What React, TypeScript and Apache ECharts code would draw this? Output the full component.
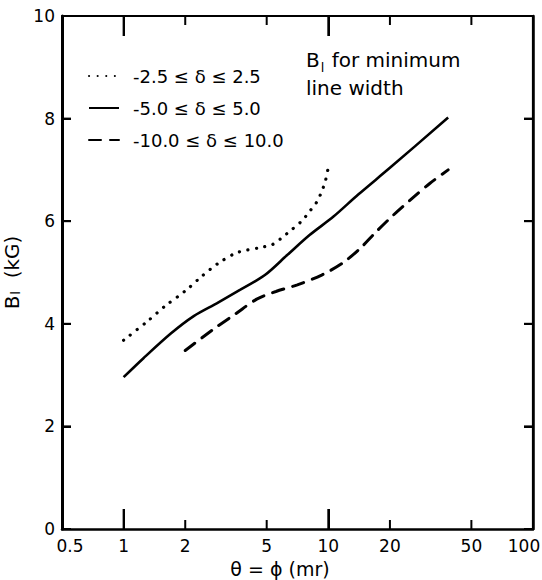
import React, { useEffect, useRef } from 'react';
import * as echarts from 'echarts';

const FONT = 'DejaVu Sans';

const xMin = 0.5;
const xMax = 100;
const yMin = 0;
const yMax = 10;
const yStep = 2;
const xTickLabels = [0.5, 1, 2, 5, 10, 20, 50, 100];
const xMajorTicks = [1, 10];
const xMinorTicks = [2, 5, 20, 50];
const yTicks = [2, 4, 6, 8];

const seriesNames = ['-2.5 ≤ δ ≤ 2.5', '-5.0 ≤ δ ≤ 5.0', '-10.0 ≤ δ ≤ 10.0'];

const dottedX = [1, 1.3, 1.6, 2, 2.4, 2.9, 3.6, 4.7, 5.3, 5.9, 6.6, 7.4, 8.1, 8.8, 9.35, 9.7, 10];
const dottedY = [3.68, 4.04, 4.35, 4.64, 4.92, 5.18, 5.39, 5.49, 5.54, 5.67, 5.83, 6.0, 6.19, 6.38, 6.61, 6.8, 7.05];

const solidX = [1, 1.25, 1.7, 2.2, 2.85, 3.7, 4.9, 6.3, 8.1, 10.6, 14, 20, 38.5];
const solidY = [2.96, 3.33, 3.81, 4.15, 4.4, 4.66, 4.95, 5.34, 5.73, 6.09, 6.52, 7.04, 8.02];

const dashedX = [2, 2.76, 3.54, 4.47, 5.55, 7.06, 9.28, 11.8, 14.3, 17.2, 20.8, 25.1, 31.4, 38.5];
const dashedY = [3.48, 3.9, 4.2, 4.48, 4.63, 4.76, 4.95, 5.19, 5.47, 5.8, 6.12, 6.41, 6.74, 7.0];

const zip = (xs: number[], ys: number[]) => xs.map((x, i) => [x, ys[i]]);

export default function App() {
  const ref = useRef<HTMLDivElement>(null);
  useEffect(() => {
    document.body.style.margin = '0';
    const chart = echarts.init(ref.current!, undefined, { renderer: 'svg' });
    const fmt = (v: number) => {
      const n = +Number(v).toPrecision(3);
      if (n === 0.5) return '{a|0.5}';
      if (n === 100) return '{z|100}';
      return String(n);
    };
    const tickRows: any[] = [
      ...xMajorTicks.map((v) => [v, 0, 20]),
      ...xMinorTicks.map((v) => [v, 0, 9]),
      ...yTicks.map((v) => [xMin, v, 9]),
    ];
    const option: any = {
      animation: false,
      backgroundColor: '#fff',
      grid: { left: 62, right: 9, top: 16, bottom: 51, outerBoundsMode: 'none' },
      xAxis: [
        {
          type: 'log',
          min: xMin,
          max: xMax,
          position: 'bottom',
          splitLine: { show: false },
          axisLine: { show: true, onZero: false, lineStyle: { color: '#000', width: 2.5 } },
          axisTick: { show: true, inside: true, length: 20, customValues: xMajorTicks, lineStyle: { color: '#000', width: 2 } },
          axisLabel: {
            show: true,
            customValues: xTickLabels,
            formatter: fmt,
            margin: 8,
            color: '#000',
            fontSize: 17,
            fontFamily: FONT,
            rich: {
              a: { fontSize: 17, fontFamily: FONT, color: '#000', padding: [0, 0, 0, 16] },
              z: { fontSize: 17, fontFamily: FONT, color: '#000', padding: [0, 18, 0, 0] },
            },
          },
          name: 'θ = ϕ (mr)',
          nameLocation: 'middle',
          nameGap: 30,
          nameTextStyle: { fontSize: 19, fontFamily: FONT, color: '#000', padding: [0, 35, 0, 0] },
        },
        {
          type: 'log',
          min: xMin,
          max: xMax,
          position: 'top',
          splitLine: { show: false },
          axisLine: { show: true, onZero: false, lineStyle: { color: '#000', width: 2 } },
          axisTick: { show: true, inside: true, length: 20, customValues: xMajorTicks, lineStyle: { color: '#000', width: 2 } },
          axisLabel: { show: false },
        },
      ],
      yAxis: [
        {
          type: 'value',
          position: 'left',
          min: yMin,
          max: yMax,
          interval: yStep,
          splitLine: { show: false },
          axisLine: { show: true, onZero: false, lineStyle: { color: '#000', width: 3 } },
          axisTick: { show: true, inside: true, length: 9, lineStyle: { color: '#000', width: 2 } },
          axisLabel: { color: '#000', fontSize: 17, fontFamily: FONT, margin: 7 },
          name: '{b|B}{s|l}{b|  (kG)}',
          nameLocation: 'middle',
          nameRotate: 90,
          nameGap: 32,
          nameTextStyle: {
            rich: {
              b: { fontSize: 20, fontFamily: FONT, color: '#000' },
              s: { fontSize: 13, fontFamily: FONT, color: '#000', verticalAlign: 'bottom', padding: [6, 0, 0, 1] },
            },
          },
        },
        {
          type: 'value',
          position: 'right',
          min: yMin,
          max: yMax,
          interval: yStep,
          splitLine: { show: false },
          axisLine: { show: true, onZero: false, lineStyle: { color: '#000', width: 2.5 } },
          axisTick: { show: true, inside: true, length: 9, lineStyle: { color: '#000', width: 2 } },
          axisLabel: { show: false },
        },
      ],
      legend: {
        orient: 'vertical',
        left: 83,
        top: 62,
        itemWidth: 30,
        itemHeight: 12,
        itemGap: 14,
        data: seriesNames,
        itemStyle: { color: 'rgba(0,0,0,0)', borderColor: 'rgba(0,0,0,0)', borderWidth: 0, opacity: 0 },
        textStyle: { fontSize: 18, fontFamily: FONT, color: '#000', padding: [0, 0, 0, 9] },
      },
      series: [
        {
          name: seriesNames[0],
          type: 'line',
          data: zip(dottedX, dottedY),
          symbol: 'none',
          smooth: 0.3,
          lineStyle: { color: '#000', width: 3.2, type: [0.1, 8.5], cap: 'round' },
          itemStyle: { color: '#000' },
        },
        {
          name: seriesNames[1],
          type: 'line',
          data: zip(solidX, solidY),
          symbol: 'none',
          smooth: 0.3,
          lineStyle: { color: '#000', width: 2.6 },
          itemStyle: { color: '#000' },
        },
        {
          name: seriesNames[2],
          type: 'line',
          data: zip(dashedX, dashedY),
          symbol: 'none',
          smooth: 0.3,
          lineStyle: { color: '#000', width: 3, type: [12, 9], cap: 'round' },
          itemStyle: { color: '#000' },
        },
        {
          name: 'frame',
          type: 'line',
          silent: true,
          clip: false,
          symbol: 'none',
          data: [[xMin, yMax], [xMax, yMax], [xMax, yMin]],
          lineStyle: { color: '#000', width: 2.2 },
        },
        {
          name: 'ticks',
          type: 'custom',
          silent: true,
          clip: false,
          data: tickRows,
          encode: { x: 0, y: 1 },
          renderItem: (params: any, api: any) => {
            const v = api.value(0);
            const w = api.value(1);
            const len = api.value(2);
            const st = { stroke: '#000', lineWidth: 2, fill: 'none' };
            if (w === 0) {
              const b = api.coord([v, yMin]);
              const t = api.coord([v, yMax]);
              return {
                type: 'group',
                children: [
                  { type: 'polyline', shape: { points: [[b[0], b[1]], [b[0], b[1] - len]] }, style: st },
                  { type: 'polyline', shape: { points: [[t[0], t[1]], [t[0], t[1] + len]] }, style: st },
                ],
              };
            }
            const l = api.coord([xMin, w]);
            const r = api.coord([xMax, w]);
            return {
              type: 'group',
              children: [
                { type: 'polyline', shape: { points: [[l[0], l[1]], [l[0] + len, l[1]]] }, style: st },
                { type: 'polyline', shape: { points: [[r[0], r[1]], [r[0] - len, r[1]]] }, style: st },
              ],
            };
          },
        },
      ],
      graphic: [
        {
          type: 'text',
          left: 306,
          top: 50,
          style: {
            text: '{b|B}{s|l}{b| for minimum}\n{b|line width}',
            rich: {
              b: { fontSize: 20, fontFamily: FONT, fill: '#000', lineHeight: 28 },
              s: { fontSize: 13, fontFamily: FONT, fill: '#000', lineHeight: 28, verticalAlign: 'bottom', padding: [0, 1, 0, 1] },
            },
          },
        },
      ],
    };
    chart.setOption(option);
    return () => chart.dispose();
  }, []);
  return <div ref={ref} style={{ width: 542, height: 580 }} />;
}
